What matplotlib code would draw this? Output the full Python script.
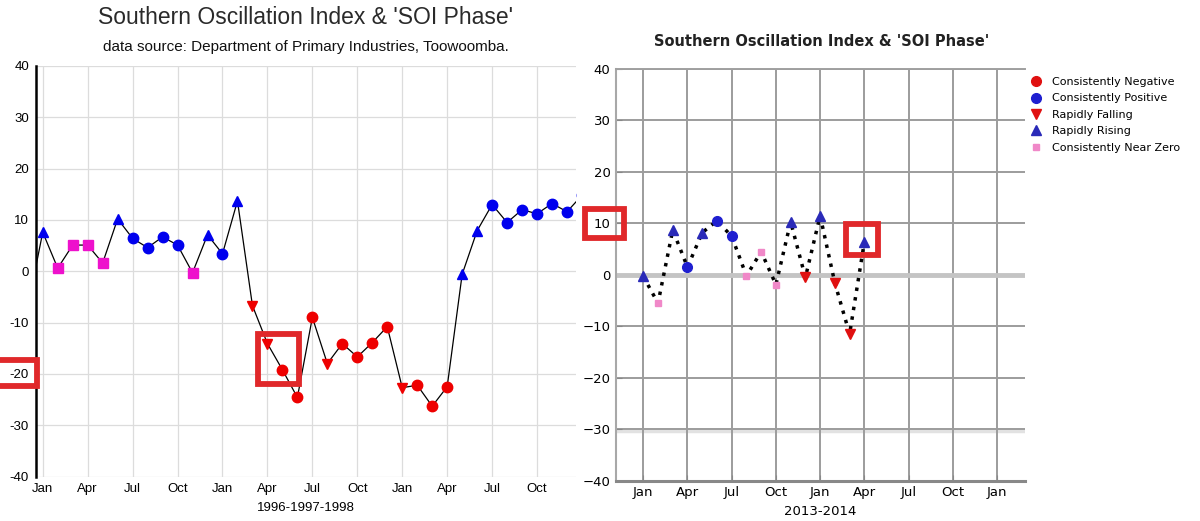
import numpy as np
import matplotlib
matplotlib.use('Agg')
import matplotlib.pyplot as plt
from matplotlib.patches import Rectangle
from matplotlib.ticker import FuncFormatter

# left panel: monthly SOI, Dec 1995 .. Jan 1999 (index 0 = Jan 1996)
left_month = np.arange(-1, 37)
left_soi = [-7.0,
            7.6, 0.6, 5.1, 5.1, 1.6, 10.2, 6.4, 4.6, 6.7, 5.1, -0.3, 7.1,
            3.4, 13.7, -6.7, -14.1, -19.2, -24.6, -9.0, -18.0, -14.1, -16.7, -13.9, -10.8,
            -22.7, -22.2, -26.3, -22.5, -0.6, 7.9, 13.0, 9.5, 12.0, 11.2, 13.2, 11.6,
            14.8]
left_phase = ['neg',
              'rise', 'zero', 'zero', 'zero', 'zero', 'rise', 'pos', 'pos', 'pos', 'pos', 'zero', 'rise',
              'pos', 'rise', 'fall', 'fall', 'neg', 'neg', 'neg', 'fall', 'neg', 'neg', 'neg', 'neg',
              'fall', 'neg', 'neg', 'neg', 'rise', 'rise', 'pos', 'pos', 'pos', 'pos', 'pos', 'pos',
              'pos']

# right panel: Jan 2013 .. Apr 2014 (index 0 = Jan 2013)
right_month = np.arange(0, 16)
right_soi = [-0.3, -5.5, 8.7, 1.5, 8.2, 10.5, 7.5, -0.2, 4.5, -1.9, 10.3, -0.5,
             11.5, -1.6, -11.5, 6.4]
right_phase = ['rise', 'zero', 'rise', 'pos', 'rise', 'pos', 'pos', 'zero', 'zero', 'zero', 'rise', 'fall',
               'rise', 'fall', 'fall', 'rise']

month_ticks_left = np.arange(0, 36, 3)
month_ticks_right = np.arange(0, 25, 3)
month_names = ['Jan', 'Apr', 'Jul', 'Oct']

phase_names = {'neg': 'Consistently Negative', 'pos': 'Consistently Positive',
               'fall': 'Rapidly Falling', 'rise': 'Rapidly Rising', 'zero': 'Consistently Near Zero'}

W, H = 1200, 521
fig = plt.figure(figsize=(W / 100, H / 100), dpi=100)

def fx(px):
    return px / W

def fy(py):
    return 1 - py / H

# ---- left panel ----
ax1 = fig.add_axes([fx(36), fy(476.5), fx(576 - 36), (476.5 - 66) / H])
left_style = {'neg': ('o', '#ee0000', 7.5), 'pos': ('o', '#0000ee', 7.5),
              'fall': ('v', '#ee0000', 7.5), 'rise': ('^', '#0000ee', 7.5),
              'zero': ('s', '#ee11cc', 6.8)}
ax1.plot(left_month, left_soi, color='black', lw=0.9, zorder=2)
lp = np.array(left_phase)
lv = np.array(left_soi)
for ph, (mk, col, ms) in left_style.items():
    m = lp == ph
    ax1.plot(left_month[m], lv[m], ls='none', marker=mk, color=col, ms=ms, zorder=3)
ax1.set_xlim(-0.45, 35.6)
ax1.set_ylim(-40, 40)
ax1.set_yticks(np.arange(-40, 41, 10))
ax1.yaxis.set_major_formatter(FuncFormatter(lambda v, p: '%d' % v))
ax1.set_xticks(month_ticks_left)
ax1.set_xticklabels([month_names[i % 4] for i in range(len(month_ticks_left))])
ax1.grid(True, color='#dcdcdc', lw=0.9)
ax1.set_axisbelow(True)
for s in ['top', 'right', 'bottom']:
    ax1.spines[s].set_visible(False)
ax1.spines['left'].set_color('black')
ax1.spines['left'].set_linewidth(1.8)
ax1.tick_params(length=0, labelsize=9.5, pad=5)
for t in ax1.get_xticklabels() + ax1.get_yticklabels():
    t.set_family('Liberation Sans')
ax1.set_xlabel('1996-1997-1998', fontsize=9.5, family='Liberation Sans', labelpad=5)

fig.text(fx(305), fy(18), "Southern Oscillation Index & 'SOI Phase'", ha='center', va='center',
         fontsize=16.5, family='Liberation Sans', color='#2a2a2a')
fig.text(fx(306), fy(47), 'data source: Department of Primary Industries, Toowoomba.', ha='center',
         va='center', fontsize=11, family='Liberation Sans', color='#111111')

# ---- right panel ----
ax2 = fig.add_axes([fx(616), fy(480.7), fx(1025 - 616), (480.7 - 69) / H])
right_style = {'neg': ('o', '#e01010', 7), 'pos': ('o', '#1f1fd0', 7),
               'fall': ('v', '#e01010', 7), 'rise': ('^', '#2a2ab8', 7),
               'zero': ('s', '#f088c8', 5)}
ax2.axhline(0, color='#c4c4c4', lw=3.5, zorder=1)
ax2.axhline(-30.4, color='#e2e2e2', lw=2.5, zorder=0.4)
ax2.plot(right_month, right_soi, color='black', lw=2.5, ls=(0, (1, 1.8)), zorder=2)
rp = np.array(right_phase)
rv = np.array(right_soi)
for ph, (mk, col, ms) in right_style.items():
    m = rp == ph
    ax2.plot(right_month[m], rv[m], ls='none', marker=mk, color=col, ms=ms, zorder=3,
             label=phase_names[ph])
ax2.set_xlim(-1.85, 25.9)
ax2.set_ylim(-40, 40)
ax2.set_yticks(np.arange(-40, 41, 10))
ax2.set_xticks(month_ticks_right)
ax2.set_xticklabels([month_names[i % 4] for i in range(len(month_ticks_right))])
ax2.grid(True, color='#9c9c9c', lw=1.4)
ax2.set_axisbelow(True)
ax2.spines['right'].set_visible(False)
ax2.spines['top'].set_color('#a0a0a0')
ax2.spines['top'].set_linewidth(1.4)
ax2.spines['left'].set_color('#a8a8a8')
ax2.spines['left'].set_linewidth(1.5)
ax2.spines['bottom'].set_color('#888888')
ax2.spines['bottom'].set_linewidth(2.2)
ax2.tick_params(direction='in', length=4, color='#888888', labelsize=9.5, pad=4)
ax2.set_xlabel('2013-2014', fontsize=9.5, labelpad=4)
fig.text(fx(822), fy(42), "Southern Oscillation Index & 'SOI Phase'", ha='center', va='center',
         fontsize=10.5, fontweight='bold', color='#222222')

handles, labels = ax2.get_legend_handles_labels()
fig.legend(handles, labels, loc='upper left', bbox_to_anchor=(fx(1030), fy(77)), frameon=False,
           fontsize=8, handlelength=1.0, handletextpad=1.0, labelspacing=0.58, numpoints=1,
           borderaxespad=0, borderpad=0)

# red highlight boxes
boxes = [(-3, 360, 37, 386), (258, 333.5, 298.5, 384), (584.5, 209.5, 623.5, 238.5), (845.5, 223.5, 878, 254.5)]
for x0, y0, x1, y1 in boxes:
    fig.patches.append(Rectangle((fx(x0), fy(y1)), fx(x1 - x0), (y1 - y0) / H, transform=fig.transFigure,
                                 fill=False, edgecolor='#e0282a', lw=4.2, zorder=10))

fig.savefig('out.png', dpi=100)
